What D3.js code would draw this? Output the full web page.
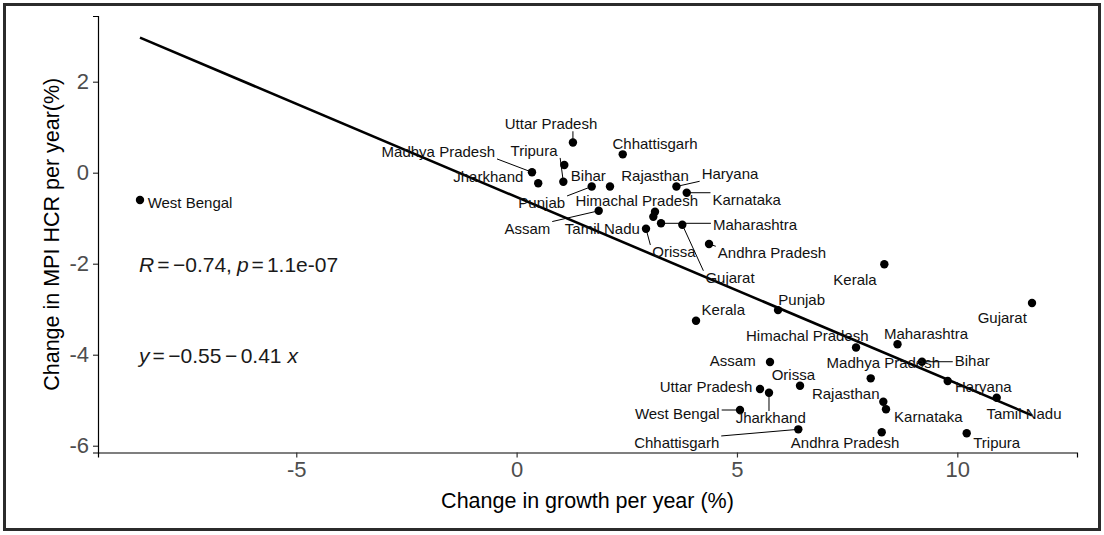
<!DOCTYPE html>
<html>
<head>
<meta charset="utf-8">
<script src="https://cdn.jsdelivr.net/npm/d3@7"></script>
<style>
  body { margin: 0; background: #fff; }
  text { font-family: "Liberation Sans", Arial, sans-serif; }
</style>
</head>
<body>
<svg id="chart" width="1104" height="535"></svg>
<script>
// two periods of the same states, one point each
var states = [
  "Uttar Pradesh", "Chhattisgarh", "Bihar", "Madhya Pradesh", "Jharkhand", "Tripura",
  "Punjab", "Rajasthan", "Haryana", "Karnataka", "Assam", "Himachal Pradesh",
  "Tamil Nadu", "Maharashtra", "Gujarat", "Orissa", "Andhra Pradesh", "Kerala", "West Bengal",
  "Gujarat", "Punjab", "Kerala", "Himachal Pradesh", "Maharashtra", "Assam",
  "Madhya Pradesh", "Bihar", "Orissa", "Haryana", "Uttar Pradesh", "Jharkhand",
  "Rajasthan", "Karnataka", "Tamil Nadu", "West Bengal", "Chhattisgarh", "Andhra Pradesh", "Tripura"
];
var growth = [
  1.278, 2.408, 1.082, 0.349, 0.490, 1.060,
  1.704, 2.119, 3.626, 3.860, 1.863, 3.140,
  3.102, 3.277, 3.760, 2.936, 4.366, 8.344, -8.546,
  11.695, 5.932, 4.071, 7.702, 8.643, 5.750,
  8.035, 9.199, 6.431, 9.782, 5.523, 5.727,
  8.321, 8.382, 10.894, 5.069, 6.392, 8.285, 10.213
];
var mpiChange = [
  0.664, 0.404, 0.169, 0.011, -0.233, -0.200,
  -0.303, -0.303, -0.303, -0.440, -0.837, -0.857,
  -0.967, -1.112, -1.143, -1.231, -1.567, -2.013, -0.600,
  -2.864, -3.020, -3.255, -3.842, -3.771, -4.160,
  -4.519, -4.154, -4.681, -4.578, -4.754, -4.835,
  -5.033, -5.200, -4.945, -5.215, -5.640, -5.705, -5.727
];
// where the repelled labels ended up (data units)
var labelGrowth = [
  0.781, 3.140, 1.627, -1.777, -0.642, 0.395,
  0.570, 3.140, 4.842, 5.221, 0.243, 2.725,
  1.945, 5.410, 4.842, 3.572, 5.795, 7.679, -7.411,
  11.021, 6.469, 4.690, 6.596, 9.290, 4.904,
  8.321, 10.340, 6.279, 10.590, 4.298, 5.766,
  7.468, 9.342, 11.513, 3.646, 3.633, 7.452, 10.894
];
var labelMpi = [
  1.070, 0.646, -0.066, 0.462, -0.088, 0.484,
  -0.659, -0.066, -0.029, -0.585, -1.222, -0.615,
  -1.222, -1.149, -2.303, -1.736, -1.765, -2.343, -0.659,
  -3.193, -2.798, -3.018, -3.589, -3.530, -4.132,
  -4.167, -4.132, -4.431, -4.703, -4.703, -5.385,
  -4.864, -5.363, -5.288, -5.288, -5.934, -5.934, -5.934
];
var withLeader = [
  1, 0, 0, 1, 0, 1,
  1, 0, 1, 1, 1, 0,
  0, 1, 1, 1, 1, 0, 0,
  0, 0, 0, 0, 0, 0,
  0, 1, 0, 0, 0, 1,
  0, 0, 0, 1, 1, 0, 0
];

var xTicks = [-5, 0, 5, 10];
var yTicks = [-6, -4, -2, 0, 2];

var svg = d3.select("#chart");
var plotLeft = 98, plotRight = 1077, plotTop = 16, plotBottom = 452.5;

var x = d3.scaleLinear().domain([-9.499, 12.716]).range([plotLeft, plotRight]);
var y = d3.scaleLinear().domain([-6.149, 3.444]).range([plotBottom, plotTop]);

// frame round the whole picture
svg.append("rect")
  .attr("x", 4.5).attr("y", 4.5)
  .attr("width", 1095).attr("height", 525)
  .attr("fill", "none").attr("stroke", "#2b2b2b").attr("stroke-width", 3);

// axes
var xAxis = svg.append("g")
  .attr("transform", `translate(0,${plotBottom})`)
  .call(d3.axisBottom(x).tickValues(xTicks).tickSize(5).tickPadding(4));
var yAxis = svg.append("g")
  .attr("transform", `translate(${plotLeft},0)`)
  .call(d3.axisLeft(y).tickValues(yTicks).tickSize(5).tickPadding(4));

[xAxis, yAxis].forEach(g => {
  g.select(".domain").attr("stroke", "#000").attr("stroke-width", 1.2);
  g.selectAll(".tick line").attr("stroke", "#333").attr("stroke-width", 1.2);
  g.selectAll(".tick text")
    .attr("fill", "#4d4d4d")
    .style("font-size", "22px")
    .style("font-family", "'Liberation Sans', Arial, sans-serif")
    .text(d => String(d)); // ggplot uses a plain hyphen for negatives
});

svg.append("text")
  .attr("x", (plotLeft + plotRight) / 2).attr("y", 508)
  .attr("text-anchor", "middle")
  .style("font-size", "21.5px")
  .text("Change in growth per year (%)");

svg.append("text")
  .attr("transform", `translate(51,${(plotTop + plotBottom) / 2}) rotate(-90)`)
  .attr("text-anchor", "middle")
  .attr("dy", "0.35em")
  .style("font-size", "21.5px")
  .text("Change in MPI HCR per year(%)");

// least squares line over the range of the points
var mx = d3.mean(growth), my = d3.mean(mpiChange);
var sxy = d3.sum(growth, (g, i) => (g - mx) * (mpiChange[i] - my));
var sxx = d3.sum(growth, g => (g - mx) * (g - mx));
var slope = sxy / sxx;
var intercept = my - slope * mx;
console.log("fit", intercept, slope);
var xr = d3.extent(growth);

svg.append("path")
  .datum(xr)
  .attr("fill", "none")
  .attr("stroke", "#000")
  .attr("stroke-width", 2.6)
  .attr("d", d3.line().x(d => x(d)).y(d => y(intercept + slope * d)));

// points
svg.append("g").selectAll("circle")
  .data(states)
  .join("circle")
  .attr("cx", (d, i) => x(growth[i]))
  .attr("cy", (d, i) => y(mpiChange[i]))
  .attr("r", 4.2)
  .attr("fill", "#000");

// labels, then leader lines to the nearest edge of each label
var segG = svg.append("g");
var labG = svg.append("g");
states.forEach((s, i) => {
  var t = labG.append("text")
    .attr("x", x(labelGrowth[i]))
    .attr("y", y(labelMpi[i]))
    .attr("dy", "0.35em")
    .attr("text-anchor", "middle")
    .attr("fill", "#111")
    .style("font-size", "15px")
    .text(s);
  if (withLeader[i]) {
    var b = t.node().getBBox();
    var px = x(growth[i]), py = y(mpiChange[i]);
    var pad = 2;
    var ex = Math.max(b.x - pad, Math.min(px, b.x + b.width + pad));
    var ey = Math.max(b.y + 2, Math.min(py, b.y + b.height - 1));
    segG.append("line")
      .attr("x1", px).attr("y1", py)
      .attr("x2", ex).attr("y2", ey)
      .attr("stroke", "#000").attr("stroke-width", 1);
  }
});

// correlation and equation, plotmath style
function mathText(yPos, parts) {
  var t = svg.append("text").attr("x", 139).attr("y", yPos)
    .style("font-size", "21px").attr("fill", "#1a1a1a");
  parts.forEach(p => {
    t.append("tspan").attr("dx", p[2]).style("font-style", p[1] ? "italic" : "normal").text(p[0]);
  });
}
mathText(272, [["R", 1, 0], ["=", 0, 3], ["\u22120.74,", 0, 3.5], ["p", 1, 5], ["=", 0, 3], ["1.1e-07", 0, 3]]);
mathText(363, [["y", 1, 0], ["=", 0, 3], ["\u22120.55", 0, 3.5], ["\u2212", 0, 3.5], ["0.41", 0, 3.5], [" x", 1, 0]]);
</script>
</body>
</html>
